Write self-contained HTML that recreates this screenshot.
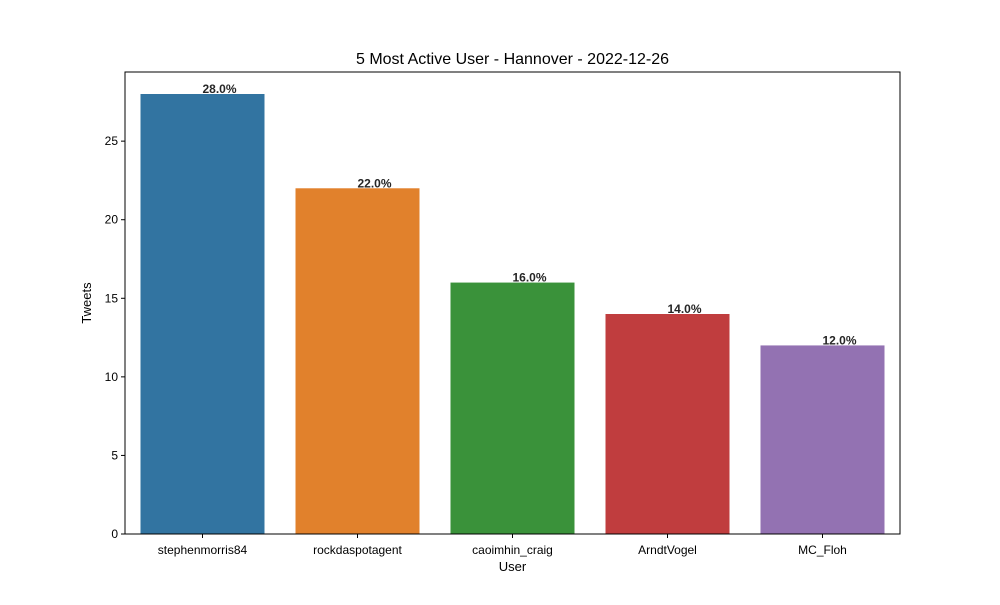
<!DOCTYPE html>
<html><head><meta charset="utf-8"><style>
body{margin:0;background:#fff;font-family:"Liberation Sans",Arial,sans-serif}
</style></head><body>
<svg width="1000" height="600" viewBox="0 0 1000 600" font-family="Liberation Sans, Arial, sans-serif">
<rect width="1000" height="600" fill="#fff"/>
<text x="512.5" y="64" text-anchor="middle" font-size="16">5 Most Active User - Hannover - 2022-12-26</text>
<g id="bars"></g>
<g id="yticks"></g>
<g id="xticks"></g>
<rect x="125" y="72" width="775" height="462" fill="none" stroke="#000" stroke-width="1"/>
<text x="512.5" y="571" text-anchor="middle" font-size="13">User</text>
<text transform="translate(91,303) rotate(-90)" text-anchor="middle" font-size="13">Tweets</text>
</svg>
<script>
const categories=["stephenmorris84","rockdaspotagent","caoimhin_craig","ArndtVogel","MC_Floh"];
const values=[28,22,16,14,12];
const percentLabels=["28.0%","22.0%","16.0%","14.0%","12.0%"];
const yTicks=[0,5,10,15,20,25];
const colors=["#3274a1","#e1812c","#3a923a","#c03d3e","#9372b2"];
const NS="http://www.w3.org/2000/svg";
const L=125,R=900,T=72,B=534;
const ymax=Math.max(...values)*1.05;
const ys=v=>B-(v/ymax)*(B-T);
const bw=(R-L)/categories.length;
const xc=i=>L+bw*(i+0.5);
function mk(t,a,p){const e=document.createElementNS(NS,t);for(const k in a)e.setAttribute(k,a[k]);p.appendChild(e);return e;}
const gb=document.getElementById('bars'),gy=document.getElementById('yticks'),gx=document.getElementById('xticks');
values.forEach((v,i)=>{
  const r=mk('rect',{x:xc(i)-bw*0.4,y:ys(v),width:bw*0.8,height:B-ys(v),fill:colors[i%colors.length]},gb);
  
  
  const t=mk('text',{x:xc(i),y:ys(v)-1,'font-size':12,'font-weight':'bold',fill:'#262626'},gb);
  t.textContent=percentLabels[i];
  
  
  mk('line',{x1:xc(i),x2:xc(i),y1:B,y2:B+4,stroke:'#000'},gx);
  const xl=mk('text',{x:xc(i),y:B+20,'font-size':12,'text-anchor':'middle'},gx);
  xl.textContent=categories[i];
  
  
});
yTicks.forEach(v=>{
  mk('line',{x1:L-4,x2:L,y1:ys(v),y2:ys(v),stroke:'#000'},gy);
  const t=mk('text',{x:L-7,y:ys(v)+4,'font-size':12,'text-anchor':'end'},gy);
  t.textContent=v;
  
  
});
</script>
</body></html>
